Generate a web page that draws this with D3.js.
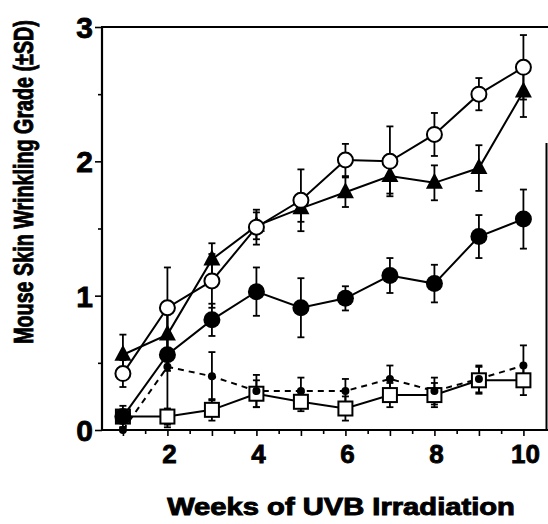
<!DOCTYPE html>
<html><head><meta charset="utf-8">
<script src="https://cdn.jsdelivr.net/npm/d3@7"></script>
<style>body{margin:0;background:#fff}svg{display:block}</style>
</head><body>
<svg id="c" width="548" height="524"></svg>
<script>
const weeks = [1,2,3,4,5,6,7,8,9,10];
const openCircle   = [0.42,0.91,1.11,1.51,1.71,2.01,2.00,2.20,2.50,2.70];
const openCircleSD = [0.10,0.30,0.20,0.13,0.23,0.12,0.26,0.16,0.12,0.24];
const triangle     = [0.56,0.71,1.27,1.52,1.65,1.77,1.89,1.84,1.95,2.52];
const triangleSD   = [0.15,0.15,0.12,0.10,0.10,0.11,0.13,0.13,0.17,0.19];
const filledCircle   = [0.10,0.56,0.82,1.03,0.91,0.98,1.15,1.09,1.44,1.57];
const filledCircleSD = [0.08,0.12,0.12,0.18,0.22,0.09,0.13,0.14,0.16,0.22];
const smallDot   = [0.00,0.47,0.40,0.29,0.29,0.29,0.38,0.29,0.38,0.48];
const smallDotSD = [0.02,0.45,0.18,0.12,0.10,0.09,0.10,0.10,0.10,0.15];
const openSquare   = [0.10,0.10,0.15,0.27,0.21,0.16,0.26,0.26,0.37,0.37];
const openSquareSD = [0.05,0.06,0.08,0.10,0.07,0.09,0.09,0.09,0.10,0.11];
const xTickLabels = [2,4,6,8,10];
const yTickLabels = [0,1,2,3];
const xTitle = "Weeks of UVB Irradiation";
const yTitle = "Mouse Skin Wrinkling Grade (\u00b1SD)";

const svg = d3.select("#c");
const x = d3.scaleLinear().domain([0.53,10.53]).range([102,547]);
const y = d3.scaleLinear().domain([0,3]).range([430,27]);
const FONT = "'Liberation Sans', Arial, sans-serif";

// axes
const xMinor = d3.range(1,10.01,0.5);
const xAx = d3.axisBottom(x).tickValues(xMinor).tickSize(5).tickFormat("");
svg.append("g").attr("transform","translate(0,430)").call(xAx)
  .call(g=>{g.select(".domain").remove(); g.selectAll("line").attr("stroke","#000").attr("stroke-width",1.6)
    .attr("y2",d=>Number.isInteger(d)?6:4);});
const yMinor = d3.range(0,3.01,0.5);
const yAx = d3.axisLeft(y).tickValues(yMinor).tickSize(5).tickFormat("");
svg.append("g").attr("transform","translate(102,0)").call(yAx)
  .call(g=>{g.select(".domain").remove(); g.selectAll("line").attr("stroke","#000").attr("stroke-width",1.6)
    .attr("x2",d=>Number.isInteger(d)?-7:-4);});
// frame
svg.append("line").attr("x1",102).attr("x2",102).attr("y1",y(3)).attr("y2",y(0)+1).attr("stroke","#000").attr("stroke-width",2.2);
svg.append("line").attr("x1",101).attr("x2",548).attr("y1",y(0)).attr("y2",y(0)).attr("stroke","#000").attr("stroke-width",2.2);
svg.append("line").attr("x1",101).attr("x2",548).attr("y1",y(3)).attr("y2",y(3)).attr("stroke","#000").attr("stroke-width",2.2);
svg.append("line").attr("x1",546.5).attr("x2",546.5).attr("y1",143).attr("y2",y(0)).attr("stroke","#000").attr("stroke-width",2);

// tick labels
svg.append("g").selectAll("text").data(yTickLabels).join("text")
  .attr("x",93).attr("y",d=>y(d)+11).attr("text-anchor","end")
  .attr("font-family",FONT).attr("font-weight","bold").attr("font-size",30)
  .attr("stroke","#000").attr("stroke-width",0.8).text(d=>d);
svg.append("g").selectAll("text").data(xTickLabels).join("text")
  .attr("x",d=>x(d)+2).attr("y",463).attr("text-anchor","middle")
  .attr("font-family",FONT).attr("font-weight","bold").attr("font-size",26)
  .attr("stroke","#000").attr("stroke-width",0.8).text(d=>d);

// titles (scaled along their length to fit the reference's extent)
const xt = svg.append("text").attr("text-anchor","middle")
  .attr("font-family",FONT).attr("font-weight","bold").attr("font-size",23)
  .attr("stroke","#000").attr("stroke-width",0.9).text(xTitle);
const xs = 348 / xt.node().getComputedTextLength();
xt.attr("transform",`translate(341,515) scale(${xs},1)`);
const yt = svg.append("text").attr("text-anchor","middle")
  .attr("font-family",FONT).attr("font-weight","bold").attr("font-size",27)
  .attr("stroke","#000").attr("stroke-width",0.9).text(yTitle);
const ys = 324 / yt.node().getComputedTextLength();
yt.attr("transform",`translate(33,182) rotate(-90) scale(${ys},1)`);

// series
const series = [
  {vals:openSquare, sd:openSquareSD, shape:"square", dash:null},
  {vals:smallDot, sd:smallDotSD, shape:"dot", dash:"6,5"},
  {vals:filledCircle, sd:filledCircleSD, shape:"fcircle", dash:null},
  {vals:triangle, sd:triangleSD, shape:"triangle", dash:null},
  {vals:openCircle, sd:openCircleSD, shape:"ocircle", dash:null},
];
const line = d3.line().x(d=>x(d[0])).y(d=>y(d[1]));
const gLines = svg.append("g"), gErr = svg.append("g"), gMark = svg.append("g");
series.forEach(s=>{
  const pts = weeks.map((w,i)=>[w,s.vals[i],s.sd[i]]);
  gLines.append("path").datum(pts).attr("d",line).attr("fill","none").attr("stroke","#000")
    .attr("stroke-width",2).attr("stroke-dasharray",s.dash);
  const eg = gErr.append("g").attr("stroke","#000").attr("stroke-width",1.8);
  pts.forEach(p=>{
    const xp=x(p[0]), y1=y(p[1]+p[2]), y2=y(Math.max(0,p[1]-p[2]));
    eg.append("line").attr("x1",xp).attr("x2",xp).attr("y1",y1).attr("y2",y2);
    eg.append("line").attr("x1",xp-3.5).attr("x2",xp+3.5).attr("y1",y1).attr("y2",y1);
    eg.append("line").attr("x1",xp-3.5).attr("x2",xp+3.5).attr("y1",y2).attr("y2",y2);
  });
});
series.forEach(s=>{
  const pts = weeks.map((w,i)=>[w,s.vals[i]]);
  const g = gMark.append("g");
  pts.forEach(p=>{
    const xp=x(p[0]), yp=y(p[1]);
    if(s.shape==="square") g.append("rect").attr("x",xp-7).attr("y",yp-7).attr("width",14).attr("height",14)
      .attr("fill","#fff").attr("stroke","#000").attr("stroke-width",2);
    else if(s.shape==="dot") g.append("circle").attr("cx",xp).attr("cy",yp).attr("r",4).attr("fill","#000");
    else if(s.shape==="fcircle") g.append("circle").attr("cx",xp).attr("cy",yp).attr("r",8.5).attr("fill","#000");
    else if(s.shape==="ocircle") g.append("circle").attr("cx",xp).attr("cy",yp).attr("r",7.5)
      .attr("fill","#fff").attr("stroke","#000").attr("stroke-width",2);
    else if(s.shape==="triangle") g.append("path")
      .attr("d",`M${xp},${yp-10}L${xp+8.5},${yp+6}L${xp-8.5},${yp+6}Z`).attr("fill","#000");
  });
});
</script>
</body></html>
